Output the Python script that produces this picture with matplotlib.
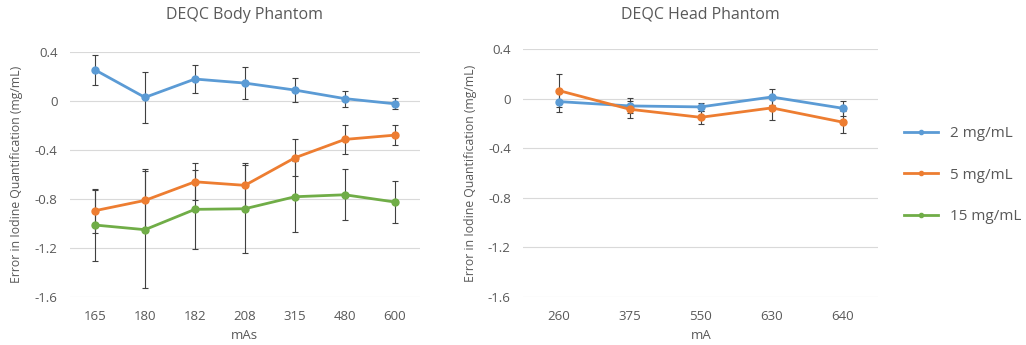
import numpy as np
import matplotlib
matplotlib.use("Agg")
import matplotlib.pyplot as plt

plt.rcParams['font.family'] = ['Open Sans', 'DejaVu Sans']

# body phantom data (mAs)
body_mas = ['165', '180', '182', '208', '315', '480', '600']
body_2 = [0.255, 0.03, 0.18, 0.147, 0.09, 0.02, -0.022]
body_2_err = [0.12, 0.21, 0.115, 0.128, 0.10, 0.065, 0.046]
body_5 = [-0.895, -0.811, -0.659, -0.688, -0.463, -0.313, -0.278]
body_5_err = [0.18, 0.26, 0.15, 0.18, 0.15, 0.117, 0.08]
body_15 = [-1.012, -1.05, -0.884, -0.879, -0.781, -0.765, -0.824]
body_15_err = [0.29, 0.48, 0.32, 0.36, 0.29, 0.21, 0.17]

# head phantom data (mA)
head_ma = ['260', '375', '550', '630', '640']
head_2 = [-0.024, -0.059, -0.067, 0.013, -0.078]
head_2_err = [0.085, 0.06, 0.032, 0.062, 0.06]
head_5 = [0.065, -0.086, -0.151, -0.075, -0.19]
head_5_err = [0.135, 0.07, 0.05, 0.1, 0.09]

blue = '#5B9BD5'
orange = '#ED7D31'
green = '#70AD47'
txt = '#595959'

fig = plt.figure(figsize=(10.26, 3.45), dpi=100)
ax1 = fig.add_axes([0.0682, 0.139, 0.341, 0.71])
ax2 = fig.add_axes([0.510, 0.139, 0.346, 0.719])


def draw(ax, x_labels, series, title, xlabel, tpad):
    x = np.arange(len(x_labels))
    for vals, errs, col, lab in series:
        ax.errorbar(x, vals, yerr=errs, color=col, lw=2, marker='o', ms=5,
                    ecolor='#404040', elinewidth=0.8, capsize=2.5, capthick=0.8,
                    label=lab, zorder=3)
    ax.set_xlim(-0.5, len(x_labels) - 0.5)
    ax.set_ylim(-1.6, 0.4)
    ax.set_yticks([0.4, 0, -0.4, -0.8, -1.2, -1.6])
    ax.set_yticklabels(['0.4', '0', '-0.4', '-0.8', '-1.2', '-1.6'])
    ax.set_xticks(x)
    ax.set_xticklabels(x_labels)
    ax.grid(axis='y', color='#D9D9D9', lw=0.8)
    ax.set_axisbelow(True)
    for s in ax.spines.values():
        s.set_visible(False)
    ax.tick_params(length=0, colors=txt, labelsize=9.5, pad=9)
    ax.set_title(title, color=txt, fontsize=11.5, pad=tpad)
    ax.set_xlabel(xlabel, color=txt, fontsize=9.5, labelpad=5)
    ax.set_ylabel('Error in Iodine Quantification (mg/mL)', color=txt, fontsize=8.8, labelpad=8)


draw(ax1, body_mas,
     [(body_2, body_2_err, blue, '2 mg/mL'),
      (body_5, body_5_err, orange, '5 mg/mL'),
      (body_15, body_15_err, green, '15 mg/mL')],
     'DEQC Body Phantom', 'mAs', 24)

draw(ax2, head_ma,
     [(head_2, head_2_err, blue, '2 mg/mL'),
      (head_5, head_5_err, orange, '5 mg/mL')],
     'DEQC Head Phantom', 'mA', 22)

h, l = ax1.get_legend_handles_labels()
h = [plt.Line2D([], [], color=c, lw=2, marker='o', ms=3) for c in (blue, orange, green)]
fig.legend(h, l, loc='upper left', bbox_to_anchor=(0.868, 0.675), frameon=False,
           fontsize=11, labelcolor=txt, labelspacing=1.75, handlelength=2.2)

fig.savefig('out.png', dpi=100)
